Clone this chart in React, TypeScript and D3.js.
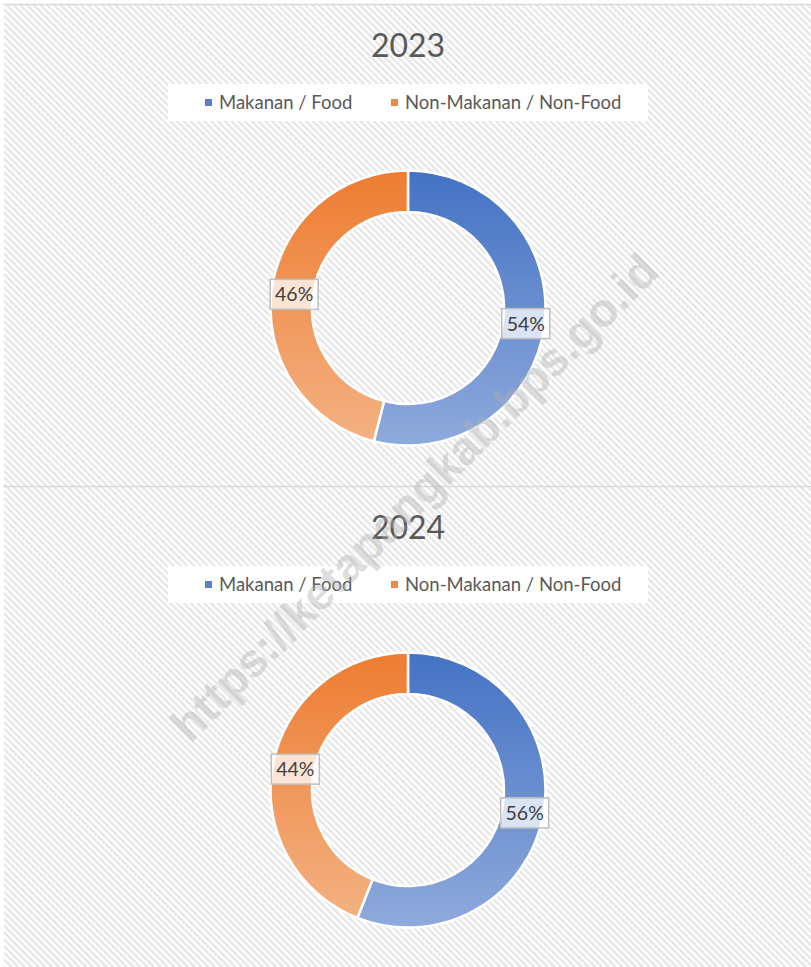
import React from "react";
import * as d3 from "d3";

const years = ["2023", "2024"];
const categories = ["Makanan / Food", "Non-Makanan / Non-Food"];
const foodShare = [54, 56];
const nonFoodShare = [46, 44];
const watermark = "https://ketapangkab.bps.go.id";

const W = 811;
const H = 967;
const panelTops = [4, 486];
const cx = 408;
const outerR = 137.5;
const innerR = 96;
const FONT = "Lato, 'Open Sans', 'Noto Sans', sans-serif";

const gradStops = [
  ["#4472C4", "#8FAADC"],
  ["#ED7D31", "#F4B183"],
];
const legendColors = ["#5B7FCB", "#EF8A45"];

export default function App() {
  const pie = d3
    .pie<number>()
    .sort(null)
    .value((d) => d);
  const arc = d3.arc<d3.PieArcDatum<number>>().innerRadius(innerR).outerRadius(outerR);
  const labelArc = d3
    .arc<d3.PieArcDatum<number>>()
    .innerRadius((innerR + outerR) / 2)
    .outerRadius((innerR + outerR) / 2);

  return (
    <div style={{ position: "absolute", left: 0, top: 0 }}>
      <svg width={W} height={H} style={{ display: "block" }}>
        <defs>
          <pattern
            id="stripes"
            width={4.8}
            height={4.8}
            patternUnits="userSpaceOnUse"
            patternTransform="rotate(-45)"
          >
            <rect width={4.8} height={4.8} fill="#ffffff" />
            <rect width={2.3} height={4.8} fill="#e6e6e6" />
          </pattern>
          {gradStops.map((g, i) => (
            <linearGradient key={i} id={`g${i}`} x1="0" y1="0" x2="0" y2="1">
              <stop offset="0%" stopColor={g[0]} />
              <stop offset="100%" stopColor={g[1]} />
            </linearGradient>
          ))}
        </defs>
        <rect x={0} y={0} width={W} height={H} fill="#ffffff" />
        <rect x={4} y={4} width={W} height={H} fill="url(#stripes)" />
        {panelTops.map((t, i) => (
          <line key={i} x1={3} x2={W} y1={t + 0.5} y2={t + 0.5} stroke="#d9d9d9" strokeWidth={1.6} />
        ))}
        {years.map((year, yi) => {
          const top = panelTops[yi];
          const cy = top + 304;
          const values = [foodShare[yi], nonFoodShare[yi]];
          const arcs = pie(values);
          return (
            <g key={year}>
              <text
                x={cx}
                y={top + 53}
                textAnchor="middle"
                fontFamily={FONT}
                fontSize={32}
                fill="#595959"
              >
                {year}
              </text>
              <rect x={168} y={top + 80} width={480} height={37} fill="#ffffff" />
              {categories.map((c, ci) => {
                const lx = ci === 0 ? 205 : 391;
                return (
                  <g key={c}>
                    <rect x={lx} y={top + 95} width={7} height={7} fill={legendColors[ci]} />
                    <text
                      x={lx + 14}
                      y={top + 105}
                      fontFamily={FONT}
                      fontSize={18.5}
                      fill="#595959"
                    >
                      {c}
                    </text>
                  </g>
                );
              })}
              <g transform={`translate(${cx},${cy})`}>
                {arcs.map((a, ai) => (
                  <path
                    key={ai}
                    d={arc(a) || ""}
                    fill={`url(#g${ai})`}
                    stroke="#ffffff"
                    strokeWidth={2.5}
                  />
                ))}
                {arcs.map((a, ai) => {
                  const [lx, ly] = labelArc.centroid(a);
                  return (
                    <g key={"l" + ai} transform={`translate(${lx + 2},${ly + 1})`}>
                      <rect
                        x={-24}
                        y={-15}
                        width={48}
                        height={30}
                        fill="#ffffff"
                        fillOpacity={0.75}
                        stroke="#bfbfbf"
                        strokeWidth={1.5}
                      />
                      <text
                        x={0}
                        y={7}
                        textAnchor="middle"
                        fontFamily={FONT}
                        fontSize={19.5}
                        fill="#404040"
                      >
                        {values[ai]}%
                      </text>
                    </g>
                  );
                })}
              </g>
            </g>
          );
        })}
        <text
          transform="translate(417,500) rotate(-45)"
          textAnchor="middle"
          dominantBaseline="middle"
          fontFamily="'Liberation Sans', Arial, sans-serif"
          fontWeight="bold"
          fontSize={47}
          fill="#b0b0b0"
          fillOpacity={0.42}
        >
          {watermark}
        </text>
      </svg>
    </div>
  );
}
